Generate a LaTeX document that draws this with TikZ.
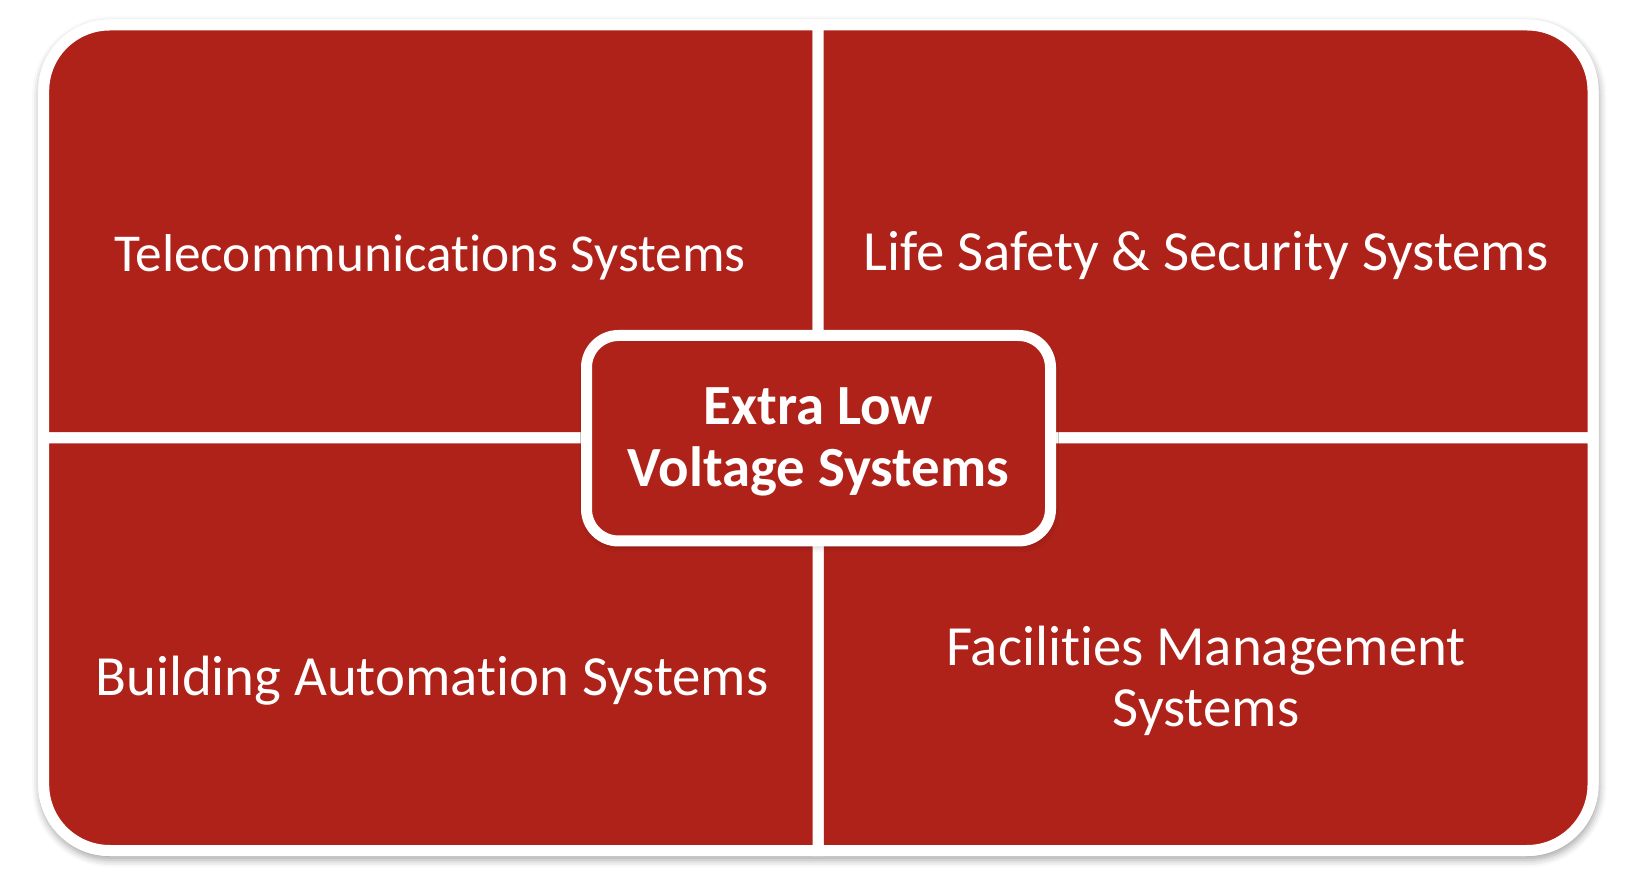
\documentclass[tikz,border=0pt]{standalone}
\usepackage{fontspec}
\setmainfont{Carlito}[Ligatures={NoCommon,NoContextual}]
\usetikzlibrary{shadows.blur}
\definecolor{ared}{RGB}{175,34,25}
\tikzset{
  quad/.style={fill=ared, draw=white, line width=11bp, line join=miter},
  backing/.style={fill=white, blur shadow={shadow xshift=1bp, shadow yshift=-4bp, shadow blur radius=7bp, shadow opacity=35}},
  centerbox/.style={fill=ared, draw=white, line width=11bp, rounded corners=32bp,
    minimum width=464bp, minimum height=205.5bp, inner sep=0pt,
    blur shadow={shadow xshift=1bp, shadow yshift=-4bp, shadow blur radius=7bp, shadow opacity=35},
    text=white, align=center, font=\bfseries\fontsize{57}{62}\selectfont},
  qtext/.style={text=white, align=center, inner sep=0pt, font=\fontsize{57}{62}\selectfont}
}
\begin{document}
\begin{tikzpicture}[x=1bp,y=1bp]
\useasboundingbox (0,0) rectangle (1638,890);
% backing with shadow
\path[backing, rounded corners=71.5bp] (38.2,34) rectangle (1598.5,870.5);
% quadrants
\path[quad] (818,452) -- (43.7,452) -- (43.7,799) arc[start angle=180,end angle=90,radius=66] -- (818,865) -- cycle;
\path[quad] (818,452) -- (818,865) -- (1527,865) arc[start angle=90,end angle=0,radius=66] -- (1593,452) -- cycle;
\path[quad] (818,452) -- (1593,452) -- (1593,105.5) arc[start angle=0,end angle=-90,radius=66] -- (818,39.5) -- cycle;
\path[quad] (818,452) -- (818,39.5) -- (109.7,39.5) arc[start angle=270,end angle=180,radius=66] -- (43.7,452) -- cycle;
% labels
\node[qtext, anchor=base, font=\fontsize{53.5}{62}\selectfont] (tele) at (430,618) {Telecommunications Systems};
\node[qtext, anchor=base] (life) at (1206,619) {Life Safety \& Security Systems};
\node[qtext, anchor=base] (build) at (432,194) {Building Automation Systems};
\node[qtext, anchor=base] (fac) at (1206,163) {Facilities Management\\Systems};
% centre
\node[centerbox] (elv) at (818.5,451.75) {\rule{0pt}{46bp}Extra Low\\Voltage Systems\rule[-12bp]{0pt}{0pt}};
\end{tikzpicture}
\end{document}
